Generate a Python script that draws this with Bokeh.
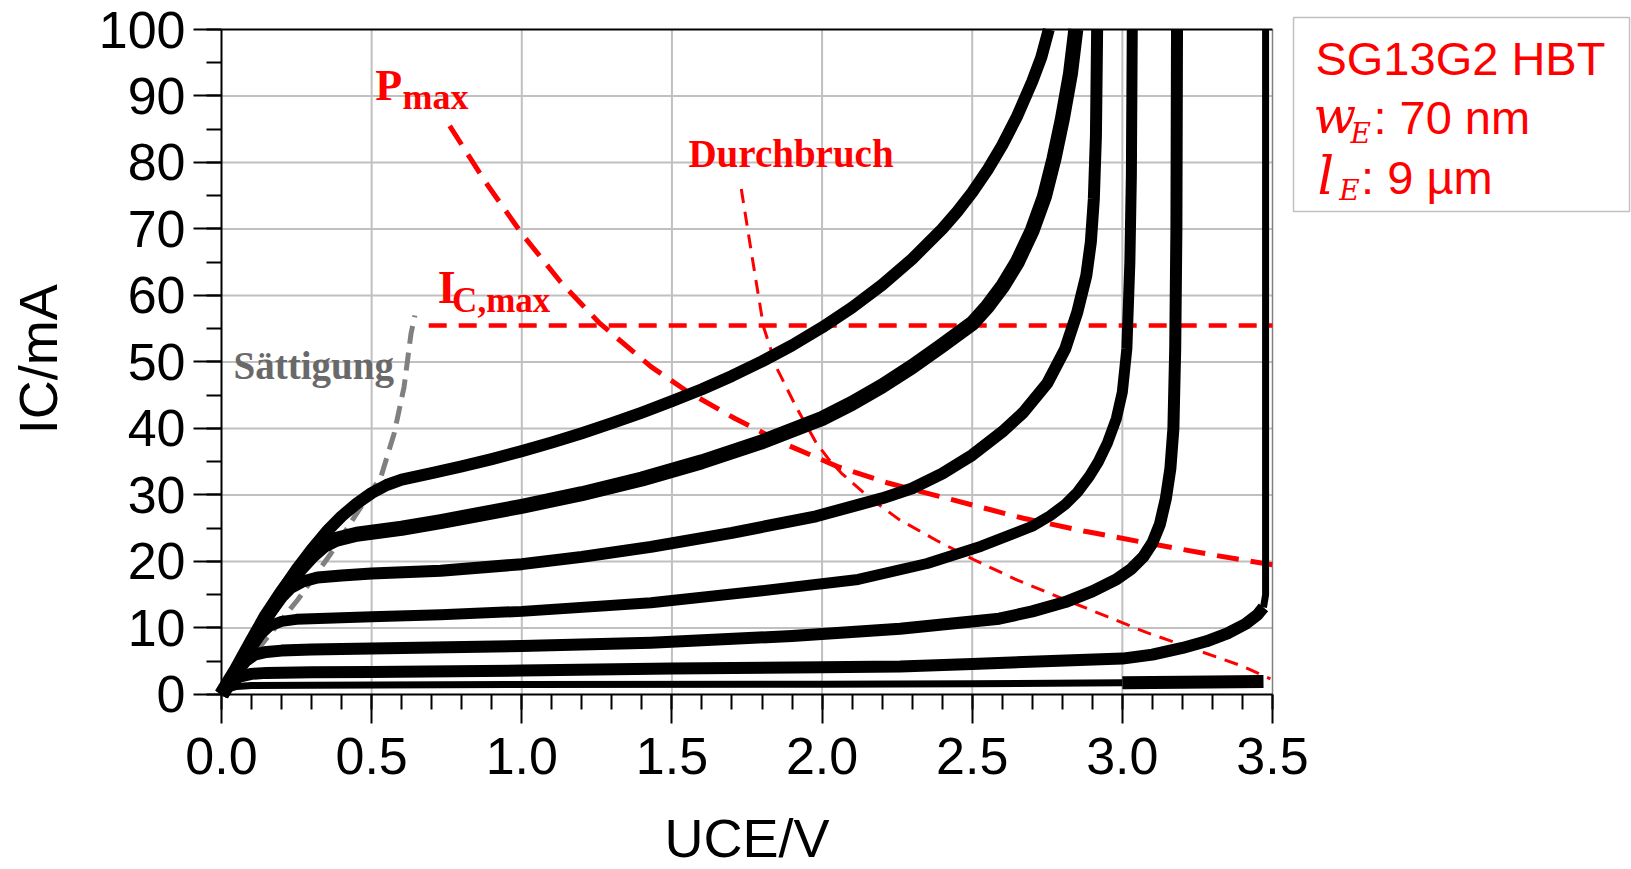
import math
from bokeh.plotting import figure
from bokeh.models import (Label, BoxAnnotation, Range1d,
                          SingleIntervalTicker, PrintfTickFormatter)
from bokeh.embed import file_html
from bokeh.resources import INLINE

# Output characteristics I_C(U_CE) of the HBT, one curve per base-current step
c1_v = [0.0, 0.05, 0.1, 0.15, 0.2, 0.25, 0.3, 0.35, 0.4, 0.45, 0.5, 0.55, 0.6, 0.7, 0.8,
        0.9, 1.0, 1.1, 1.2, 1.3, 1.4, 1.5, 1.6, 1.7, 1.8, 1.9, 2.0, 2.1, 2.2, 2.3, 2.4,
        2.45, 2.5, 2.55, 2.6, 2.65, 2.7, 2.73, 2.755]
c1_i = [0.0, 3.8, 8.0, 12.0, 15.5, 18.8, 21.8, 24.5, 26.8, 28.7, 30.3, 31.5, 32.3, 33.3, 34.3,
        35.4, 36.6, 37.9, 39.3, 40.8, 42.4, 44.1, 45.9, 47.9, 50.1, 52.5, 55.2, 58.2, 61.6,
        65.5, 70.0, 72.6, 75.5, 78.8, 82.6, 87.0, 92.2, 95.8, 100.0]

c2_v = [0.0, 0.05, 0.1, 0.15, 0.2, 0.25, 0.3, 0.34, 0.38, 0.45, 0.5, 0.6, 0.73, 1.0, 1.2,
        1.4, 1.6, 1.8, 2.0, 2.1, 2.2, 2.3, 2.4, 2.5, 2.55, 2.6, 2.65, 2.7, 2.74, 2.772,
        2.8, 2.827, 2.845]
c2_i = [0.0, 3.7, 7.8, 11.8, 15.2, 18.3, 20.8, 22.4, 23.3, 24.1, 24.4, 25.0, 26.0, 28.3, 30.2,
        32.4, 35.0, 38.0, 41.5, 43.8, 46.4, 49.3, 52.5, 55.8, 58.3, 61.3, 65.0, 69.8, 74.8,
        80.5, 86.5, 93.3, 100.0]

c3_v = [0.0, 0.05, 0.1, 0.15, 0.2, 0.23, 0.27, 0.32, 0.4, 0.5, 0.73, 1.0, 1.2, 1.43, 1.7,
        1.98, 2.2, 2.3, 2.4, 2.5, 2.6, 2.67, 2.75, 2.81, 2.85, 2.88, 2.895, 2.905, 2.912,
        2.916]
c3_i = [0.0, 3.6, 7.6, 11.5, 14.6, 16.0, 17.0, 17.6, 17.9, 18.2, 18.6, 19.6, 20.7, 22.2, 24.3,
        26.8, 29.5, 31.0, 33.2, 36.0, 39.5, 42.4, 46.8, 52.0, 57.5, 63.0, 68.0, 74.5, 84.0,
        100.0]

c4_v = [0.0, 0.05, 0.1, 0.13, 0.16, 0.2, 0.25, 0.3, 0.5, 0.73, 1.0, 1.43, 1.8, 2.12, 2.35,
        2.53, 2.7, 2.76, 2.81, 2.85, 2.89, 2.92, 2.95, 2.98, 3.0, 3.015, 3.025, 3.03, 3.033]
c4_i = [0.0, 3.5, 7.0, 9.0, 10.3, 11.0, 11.3, 11.4, 11.7, 12.0, 12.5, 13.8, 15.6, 17.3, 19.7,
        22.3, 25.3, 26.9, 28.6, 30.4, 32.8, 35.0, 37.8, 41.5, 45.5, 52.0, 65.0, 78.0, 100.0]

c5_v = [0.0, 0.05, 0.08, 0.11, 0.15, 0.2, 0.3, 0.5, 1.0, 1.43, 1.9, 2.26, 2.59, 2.7, 2.81,
        2.9, 2.98, 3.03, 3.07, 3.1, 3.125, 3.145, 3.16, 3.17, 3.176, 3.18, 3.182]
c5_i = [0.0, 3.3, 5.0, 6.0, 6.4, 6.6, 6.75, 6.9, 7.3, 7.8, 8.8, 9.9, 11.4, 12.5, 13.9,
        15.5, 17.3, 18.9, 20.7, 22.8, 25.6, 29.5, 34.0, 40.0, 52.0, 70.0, 100.0]

c6_v = [0.0, 0.03, 0.06, 0.1, 0.15, 0.3, 0.5, 1.0, 1.5, 2.0, 2.26, 2.5, 3.0, 3.1, 3.2,
        3.28, 3.35, 3.41, 3.45, 3.47, 3.477, 3.477]
c6_i = [0.0, 1.8, 2.7, 3.1, 3.25, 3.35, 3.4, 3.6, 3.9, 4.1, 4.2, 4.6, 5.4, 6.0, 7.0,
        8.0, 9.2, 10.6, 12.0, 13.1, 15.0, 100.0]
c6_knee = 19          # index where the curve turns into the vertical breakdown branch

c7_v = [0.0, 0.02, 0.05, 0.1, 0.3, 1.0, 2.0, 2.5, 3.0, 3.2, 3.47]
c7_i = [0.0, 0.8, 1.2, 1.35, 1.4, 1.5, 1.55, 1.6, 1.75, 1.85, 1.95]
c7_split = 8          # index of 3.0 V, the heavy segment starts here

# Operating-area boundaries
pmax_v = [0.76, 0.88, 1.0, 1.13, 1.26, 1.43, 1.55, 1.71, 1.88, 2.05, 2.22, 2.39, 2.67,
          2.88, 3.08, 3.3, 3.5]
pmax_i = [85.5, 77.0, 69.3, 62.0, 55.8, 49.3, 45.6, 41.5, 37.6, 34.3, 31.8, 29.8, 26.5,
          24.5, 22.8, 21.0, 19.5]

icmax_v = [0.69, 3.5]
icmax_i = [55.5, 55.5]

bd_v = [1.731, 1.767, 1.805, 1.85, 1.913, 1.981, 2.02, 2.064, 2.16, 2.257, 2.38, 2.504,
        2.65, 2.807, 2.95, 3.082, 3.24, 3.398, 3.493]
bd_i = [76.0, 65.8, 55.3, 49.0, 43.3, 37.8, 35.5, 33.3, 29.5, 26.3, 23.2, 20.3,
        17.2, 14.3, 11.7, 9.3, 6.8, 4.3, 2.35]

sat_v = [0.0, 0.12, 0.254, 0.365, 0.465, 0.531, 0.575, 0.608, 0.631, 0.644]
sat_i = [0.3, 6.75, 14.25, 21.25, 28.25, 32.75, 39.25, 46.25, 54.25, 57.0]

# axis ticks / grid positions
x_grid = [0.5, 1.0, 1.5, 2.0, 2.5, 3.0]
y_grid = [10, 20, 30, 40, 50, 60, 70, 80, 90]
X_MAX, Y_MAX = 3.5, 100

SANS = "Liberation Sans"
SERIF = "Liberation Serif"
RED = "#ff0000"

# pixel scale of the data area (used to nudge label anchors by a font fraction)
PX_PER_V = 1051 / 3.5
PX_PER_MA = 6.65

# The frame covers the whole canvas; the axes sit at U=0 / I=0 so that the
# device box and the axis titles can be placed around the data area.
p = figure(width=1631, height=869, output_backend="svg", toolbar_location=None,
           title=None,
           x_range=Range1d(-0.73597, 4.69553), y_range=Range1d(-26.316, 104.36),
           min_border_left=0, min_border_right=0, min_border_top=0,
           min_border_bottom=0)
p.outline_line_color = None
p.background_fill_color = "white"
p.border_fill_color = "white"
p.xgrid.visible = False
p.ygrid.visible = False

xt = SingleIntervalTicker(interval=0.5, num_minor_ticks=5)
yt = SingleIntervalTicker(interval=10, num_minor_ticks=2)
p.xaxis.ticker = xt
p.yaxis.ticker = yt
p.xaxis.formatter = PrintfTickFormatter(format="%.1f")
p.xaxis.fixed_location = 0
p.yaxis.fixed_location = 0
p.xaxis.bounds = (0, X_MAX)
p.yaxis.bounds = (0, Y_MAX)

for ax in (p.xaxis[0], p.yaxis[0]):
    ax.axis_line_width = 2
    ax.axis_line_color = "black"
    ax.major_tick_line_width = 2
    ax.minor_tick_line_width = 2
    ax.major_tick_in = 0
    ax.minor_tick_in = 0
    ax.minor_tick_out = 15
    ax.major_label_text_font = SANS
    ax.major_label_text_font_size = "52px"
    ax.major_label_text_color = "black"
p.xaxis.major_tick_out = 29
p.yaxis.major_tick_out = 28
p.xaxis.major_label_standoff = 15
p.yaxis.major_label_standoff = 8

# grid and plot-area border
p.segment(x0=x_grid, y0=0, x1=x_grid, y1=Y_MAX, line_color="#c0c0c0", line_width=2)
p.segment(x0=0, y0=y_grid, x1=X_MAX, y1=y_grid, line_color="#c0c0c0", line_width=2)
p.segment(x0=[X_MAX], y0=[0], x1=[X_MAX], y1=[Y_MAX], line_color="#808080", line_width=1.5)
p.segment(x0=[0], y0=[Y_MAX], x1=[X_MAX], y1=[Y_MAX], line_color="black", line_width=2)

# boundary lines
p.line(sat_v, sat_i, line_color="#808080", line_width=5, line_dash="18 9")
p.line(pmax_v, pmax_i, line_color=RED, line_width=5, line_dash="22 12")
p.line(icmax_v, icmax_i, line_color=RED, line_width=4.5, line_dash="18 12")
p.line(bd_v, bd_i, line_color=RED, line_width=3, line_dash="14 9")

# characteristic curves
for v, i, w in ((c1_v, c1_i, 12), (c2_v, c2_i, 15), (c3_v, c3_i, 12),
                (c4_v, c4_i, 11), (c5_v, c5_i, 12)):
    p.line(v, i, line_color="black", line_width=w, line_join="round")
p.line(c6_v[:c6_knee + 1], c6_i[:c6_knee + 1], line_color="black", line_width=12,
       line_join="round")
p.line(c6_v[c6_knee:], c6_i[c6_knee:], line_color="black", line_width=7, line_join="round")
p.line(c7_v[:c7_split + 1], c7_i[:c7_split + 1], line_color="black", line_width=7,
       line_join="round")
p.line(c7_v[c7_split:], c7_i[c7_split:], line_color="black", line_width=13)

BASE_SHIFT = 0.34   # anchor-to-baseline offset as a fraction of the font size


def lab(x, y, text, size, color=RED, font=SERIF, style="bold", align="left",
        vertical=False):
    """Place a text with its baseline at (x, y)."""
    d = BASE_SHIFT * size
    if vertical:
        x -= d / PX_PER_V
    else:
        y += d / PX_PER_MA
    p.add_layout(Label(x=x, y=y, text=text, text_font=font, text_font_size=f"{size}px",
                       text_font_style=style, text_color=color,
                       angle=math.pi / 2 if vertical else 0.0,
                       text_align=align, text_baseline="alphabetic"))


# axis titles
lab(1.75, -24.4, "UCE/V", 54, color="black", font=SANS, style="normal", align="center")
lab(-0.5495, 50.4, "IC/mA", 54, color="black", font=SANS, style="normal",
    align="center", vertical=True)

# region annotations
lab(0.04, 47.5, "Sättigung", 39, color="#696969")
lab(0.512, 89.3, "P", 44)
lab(0.603, 88.0, "max", 36)
lab(0.72, 58.8, "I", 46)
lab(0.768, 57.5, "C,max", 35)
lab(1.555, 79.3, "Durchbruch", 39)

# device box to the right of the plot area
p.add_layout(BoxAnnotation(left=3.570, right=4.689, top=101.8, bottom=72.63,
                           fill_alpha=0, line_color="#333333", line_width=1.5))
lab(3.643, 93.2, "SG13G2 HBT", 47, font=SANS, style="normal")
lab(3.636, 84.4, "w", 50, font="DejaVu Serif", style="italic")
lab(3.760, 83.0, "E", 28, font="DejaVu Serif", style="italic")
lab(3.836, 84.4, ": 70 nm", 47, font=SANS, style="normal")
lab(3.650, 75.3, "l", 52, font="DejaVu Serif", style="italic")
lab(3.722, 74.3, "E", 28, font="DejaVu Serif", style="italic")
lab(3.795, 75.3, ": 9 µm", 47, font=SANS, style="normal")

open("out.html", "w").write(file_html(p, INLINE))
